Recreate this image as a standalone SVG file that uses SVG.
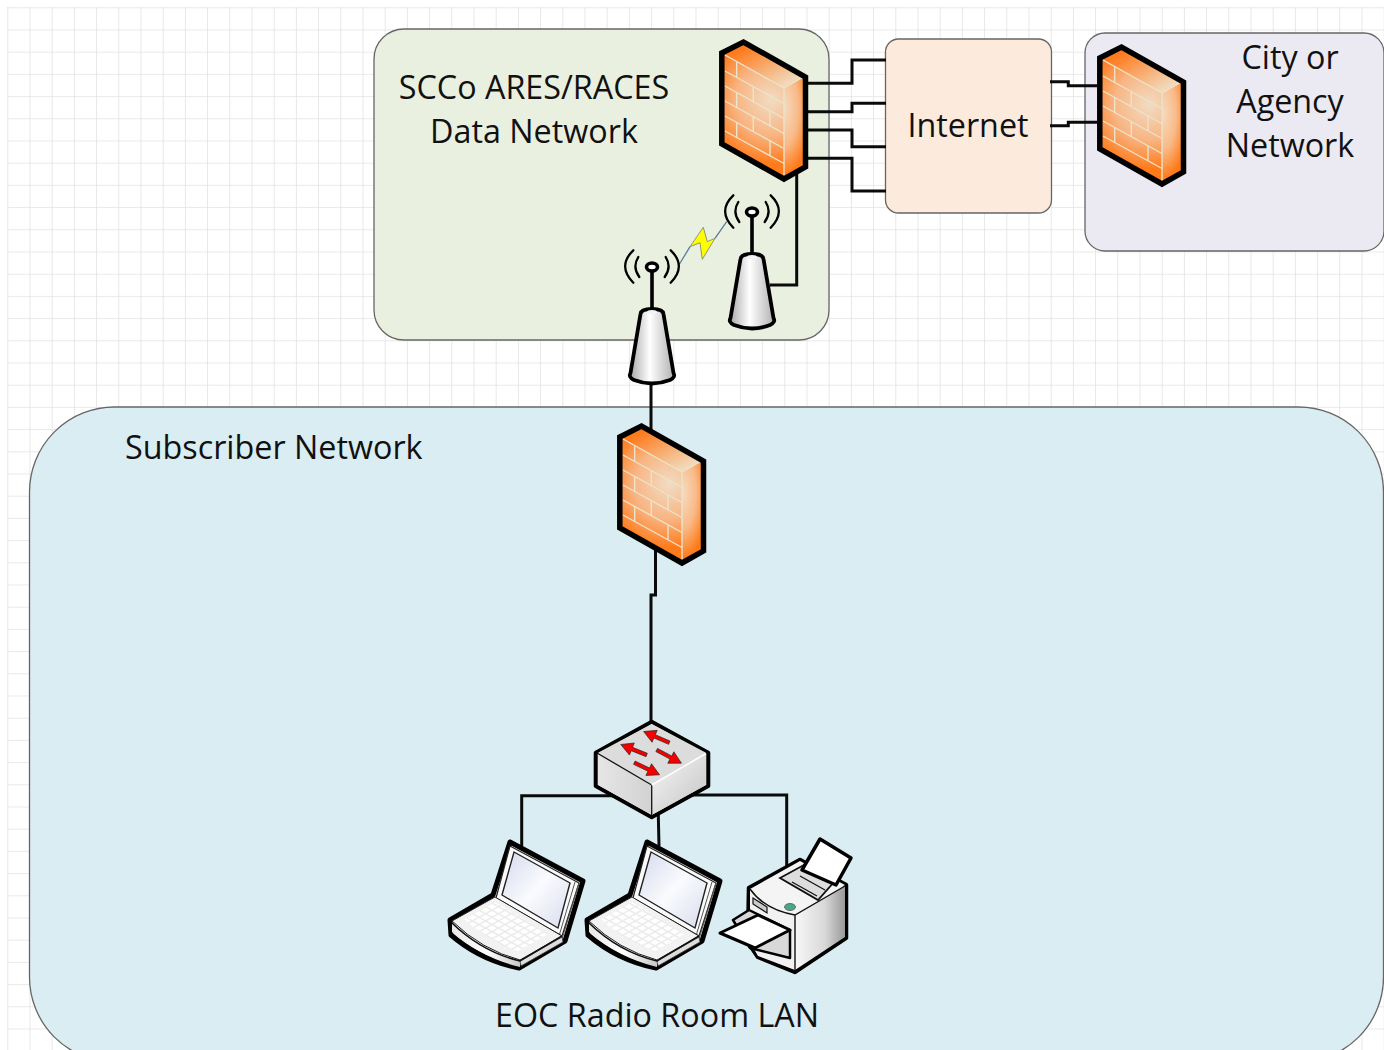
<svg xmlns="http://www.w3.org/2000/svg" width="1384" height="1050" viewBox="0 0 1384 1050">
<style>
text{font-family:"Open Sans","Noto Sans","Liberation Sans",sans-serif;font-size:32.300px;fill:#111}
.m{text-anchor:middle}
.zone{stroke:#666;stroke-width:1.3}
.conn{fill:none;stroke:#0a0a0a;stroke-width:3;stroke-linejoin:miter}
.brick{fill:none;stroke:#ece3c8;stroke-width:1.400}
.k{stroke:#000;stroke-linejoin:round}
</style>
<defs>
<pattern id="grid" x="7.3" y="7.3" width="22.2" height="22.2" patternUnits="userSpaceOnUse">
<path d="M0,0H22.2M0,0V22.2" fill="none" stroke="#e2e2e2" stroke-width="1.6"/>
</pattern>
<radialGradient id="fwFront" gradientUnits="userSpaceOnUse" cx="52" cy="60" r="64">
<stop offset="0" stop-color="#f1dcc3"/><stop offset=".55" stop-color="#f8b583"/><stop offset="1" stop-color="#ff7a1a"/>
</radialGradient>
<linearGradient id="fwTop" gradientUnits="userSpaceOnUse" x1="30" y1="5" x2="55" y2="50">
<stop offset="0" stop-color="#ff7a1c"/><stop offset="1" stop-color="#f1d8b8"/>
</linearGradient>
<radialGradient id="fwSide" gradientUnits="userSpaceOnUse" cx="65" cy="68" r="26" gradientTransform="translate(0 -105) scale(1 2.55)">
<stop offset="0" stop-color="#f5dcc2"/><stop offset=".55" stop-color="#f9ba88"/><stop offset="1" stop-color="#ff7a18"/>
</radialGradient>
<g id="firewall">
<g transform="translate(0 1)">
<path d="M3,13 L24.500,3 L86,37 L65,48 Z" fill="url(#fwTop)"/>
<path d="M3,13 L65,48 V138 L3,104 Z" fill="url(#fwFront)"/>
<path d="M65,48 L86,37 V127 L65,138 Z" fill="url(#fwSide)"/>
<path class="brick" d="M6,15 L65,48 M6,31 L65,63.500 M6,46 L65,78.500 M6,61 L65,93.500 M6,76 L65,108.500 M6,91 L65,123.500 M65,48 V136 M65,48 L84,37"/>
<path class="brick" d="M17.700,21.400 V37.400 M34.300,46.600 V61.600 M17.700,52.400 V67.400 M51,70.800 V85.800 M34.300,76.600 V91.600 M17.700,82.400 V97.400 M51,100.800 V115.800"/>
</g>
<path d="M2.800,14 L24.500,3 L86.500,38 V128 L65,140 L2.800,105 Z" fill="none" stroke="#000" stroke-width="5.500" stroke-linejoin="miter"/>
</g>
<linearGradient id="towerBody" x1="0" x2="1" y1="0" y2="0">
<stop offset="0" stop-color="#a8a8a8"/><stop offset=".45" stop-color="#ffffff"/><stop offset="1" stop-color="#b0b0b0"/>
</linearGradient>
<g id="radio">
<g fill="none" stroke="#000" stroke-width="2.300" stroke-linecap="round">
<path d="M-13.700,-10 Q-20,0 -12.700,10 M13.700,-10 Q20,0 12.700,10 M-18.700,-16.700 Q-35,-1 -18.700,15.700 M18.700,-16.700 Q35,-1 18.700,15.700"/>
</g>
<path d="M0,2 V44" stroke="#000" stroke-width="3.600"/>
<ellipse cx="0" cy="0" rx="5.500" ry="4" fill="#fff" stroke="#000" stroke-width="3.600"/>
<path d="M-11.500,47 Q-11,42 0,42 Q11,42 11.500,47 L21.500,106 Q24,110 18,113 Q0,120 -18,113 Q-24,110 -21.500,106 Z" fill="url(#towerBody)" stroke="#000" stroke-width="3.800" stroke-linejoin="round"/>
<ellipse cx="0" cy="45" rx="5" ry="2" fill="#f4f4f4"/>
</g>
<linearGradient id="screen" x1="0" y1="0" x2="1" y2="1">
<stop offset="0" stop-color="#d5daec"/><stop offset=".5" stop-color="#fafbfe"/><stop offset="1" stop-color="#d8dcec"/>
</linearGradient>
<linearGradient id="front" x1="0" y1="0" x2="1" y2="0">
<stop offset="0" stop-color="#e8e8e8"/><stop offset=".5" stop-color="#ffffff"/><stop offset="1" stop-color="#c8c8c8"/>
</linearGradient>
<pattern id="keys" width="6.500" height="6.500" patternUnits="userSpaceOnUse" patternTransform="matrix(1 .55 -1 .55 0 0)">
<rect width="6.500" height="6.500" fill="#ececec"/><rect x=".8" y=".8" width="4.900" height="4.900" fill="#fff"/>
</pattern>
<g id="laptop">
<path class="k" d="M10,210 L53,185 L70,132 L143,171 L125,231 L79,258 Q40,250 11,225 Z" fill="#eee" stroke-width="5"/>
<path d="M70,136 L139,173 L122,226 L56,188 Z" fill="#fafafa" stroke="#222" stroke-width="1.200"/>
<path d="M74,142 L130,173 L118,218 L62,185 Z" fill="url(#screen)" stroke="#222" stroke-width="1.400"/>
<path d="M139,173 L122,229 M135,172 L119,226" stroke="#555" stroke-width="1" fill="none"/>
<path d="M12,211 L55,187 L122,226 L80,250 Q42,240 12,211 Z" fill="#f2f2f2" stroke="#222" stroke-width="1"/>
<path d="M24,209 L55,192 L108,224 L78,241 Q48,232 24,209 Z" fill="url(#keys)"/>
<path d="M12,213 Q42,242 80,251 V257 Q42,248 12,222 Z" fill="url(#front)"/>
<path d="M80,251 L122,227 L123,232 L81,256 Z" fill="#ddd" stroke="#333" stroke-width=".8"/>
<path d="M12,213 Q42,242 80,251 L122,226" fill="none" stroke="#111" stroke-width="1.600"/>
</g>
<linearGradient id="swL" x1="0" x2="1" y1="0" y2="0"><stop offset="0" stop-color="#e6e6e6"/><stop offset="1" stop-color="#d2d2d2"/></linearGradient>
<linearGradient id="swR" x1="0" x2="1" y1="0" y2="1"><stop offset="0" stop-color="#f6f6f6"/><stop offset="1" stop-color="#c4c4c4"/></linearGradient>
<path id="redArrow" d="M0,-1.800 H16 V-6.500 L28,0 L16,6.500 V1.800 H0 Z" fill="#f40000" stroke="#222" stroke-width=".6"/>
<linearGradient id="prR" x1="0" x2="1" y1="0" y2="0"><stop offset="0" stop-color="#f8f8f8"/><stop offset=".6" stop-color="#d8d8d8"/><stop offset="1" stop-color="#999"/></linearGradient>
</defs>
<rect width="1384" height="1050" fill="#fff"/>
<rect x="7" y="7" width="1377" height="1043" fill="url(#grid)"/>
<g id="zone-subscriber">
<rect class="zone" x="29.500" y="407" width="1354" height="655" rx="85" fill="#daedf3"/>
<text x="125" y="459">Subscriber Network</text>
<text class="m" x="657" y="1027">EOC Radio Room LAN</text>
</g>
<g id="zone-ares">
<rect class="zone" x="374" y="29" width="455" height="311" rx="30" fill="#e9f0df"/>
<text class="m" x="534" y="99">SCCo ARES/RACES</text>
<text class="m" x="534" y="143">Data Network</text>
</g>
<g id="node-internet">
<rect class="zone" x="885.500" y="39" width="166" height="174" rx="13" fill="#fcebdd"/>
<text class="m" x="968" y="137">Internet</text>
</g>
<g id="zone-city">
<rect class="zone" x="1085" y="33" width="299" height="218" rx="20" fill="#ebe9f1"/>
<text class="m" x="1290" y="69">City or</text>
<text class="m" x="1290" y="113">Agency</text>
<text class="m" x="1290" y="157">Network</text>
</g>
<g id="connectors">
<path class="conn" d="M807,83.300 H852 V60 H886"/>
<path class="conn" d="M807,111.700 H852 V103.300 H886"/>
<path class="conn" d="M807,130 H852 V146.700 H886"/>
<path class="conn" d="M807,158.300 H852 V191 H886"/>
<path class="conn" d="M796.700,173 V285 H770"/>
<path class="conn" d="M1050,81.700 H1068.300 V85.700 H1097"/>
<path class="conn" d="M1050,125.700 H1068.300 V122.300 H1097"/>
<path class="conn" d="M651,385 V430"/>
<path class="conn" d="M655.500,550 V595 H651 V725"/>
<path class="conn" d="M613,795.700 H521.700 V846"/>
<path class="conn" d="M658.300,815 L659,846"/>
<path class="conn" d="M693,795 H786.700 V868"/>
<path d="M678.300,266 L690,246.700 M715,238.300 L726.700,221.700" fill="none" stroke="#5a7d9c" stroke-width="1.300"/>
<path d="M703.300,227.300 L690,246.700 L700,242.700 L702.300,259.300 L715,238.300 L707.300,241.700 Z" fill="#ffff00" stroke="#8a9a70" stroke-width="1"/>
</g>
<g id="firewall-ares"><use href="#firewall" x="719" y="39"/></g>
<g id="firewall-city"><use href="#firewall" x="1097" y="44"/></g>
<g id="firewall-subscriber"><use href="#firewall" x="617" y="423"/></g>
<g id="radio-ares"><use href="#radio" x="752" y="212"/></g>
<g id="radio-subscriber"><use href="#radio" x="652" y="267"/></g>
<g id="switch">
<path d="M651.700,721.700 L708.300,752.700 V786 L651.700,817.300 L595.700,786 V752.700 Z" fill="#ddd" stroke="#000" stroke-width="4" stroke-linejoin="round"/>
<path d="M651.700,724 L706,752.700 L651.700,784 L598,752.700 Z" fill="#dcdcdc"/>
<path d="M598,754 L651.700,785 V815 L598,785 Z" fill="url(#swL)"/>
<path d="M706,754 L651.700,785 V815 L706,785 Z" fill="url(#swR)"/>
<path d="M597,753 L651.700,785 V816" fill="none" stroke="#111" stroke-width="1.300"/>
<path d="M651.700,785 L706,753.500" fill="none" stroke="#fff" stroke-width="1.500"/>
<use href="#redArrow" transform="translate(669.300 742.700) rotate(203.500)"/>
<use href="#redArrow" transform="translate(646.700 755) rotate(202)"/>
<use href="#redArrow" transform="translate(656.700 750) rotate(28)"/>
<use href="#redArrow" transform="translate(634.300 762.700) rotate(25.600)"/>
</g>
<g id="laptop-1"><use href="#laptop" x="440" y="710"/></g>
<g id="laptop-2"><use href="#laptop" x="577" y="710"/></g>
<g id="printer" transform="translate(440 710)">
<path class="k" d="M309,178 L360,150 L406,175 V228 L355,262 L318,247 L308,232 L309,178 Z" fill="#eee" stroke-width="4.500"/>
<path d="M355,205 L405,176 V227 L355,260 Z" fill="url(#prR)"/>
<path d="M310,179 L360,151 L405,175 L355,204 Q325,200 310,179 Z" fill="#f4f4f4"/>
<path d="M310,179 Q325,200 355,205 V260 L318,246 L310,232 Z" fill="#f1f1f1"/>
<path d="M310,179 Q325,200 355,205 L405,176 M355,205 V260" fill="none" stroke="#111" stroke-width="1.400"/>
<path d="M340,168 L373,150 L394,172 L378,190 Z" fill="#ddd" stroke="#111" stroke-width="1.800"/>
<path class="k" d="M380,129 L411,148 L396,175 L362,160 Z" fill="#fff" stroke-width="3.500"/>
<path d="M352,172 L377,186 M360,166 L385,180" stroke="#111" stroke-width="1.200" fill="none"/>
<path d="M313,188 L327,197 V203 L313,194 Z" fill="#ccc" stroke="#111" stroke-width="1.200"/>
<ellipse cx="350" cy="197" rx="5.500" ry="3.500" fill="#4aa88a" stroke="#555" stroke-width=".8"/>
<path class="k" d="M293,210 L309,200 L350,220 V248 L310,238 Z" fill="#d8d8d8" stroke-width="2.500"/>
<path class="k" d="M280,223 L318,205 L350,220 L315,238 Z" fill="#fff" stroke-width="3"/>
</g>
</svg>
